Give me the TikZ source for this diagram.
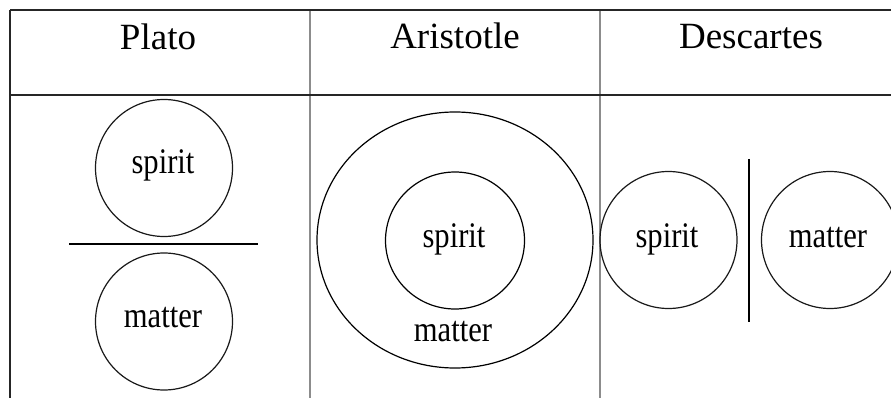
\documentclass[tikz,border=0pt]{standalone}
\usepackage{fontspec}
\setmainfont{Liberation Serif}
\newfontfamily\bodyfont{Liberation Serif}[FakeStretch=0.85]
\usetikzlibrary{shapes.geometric}
\begin{document}
\begin{tikzpicture}[x=1pt,y=-1pt,
  rule/.style={line width=1.4pt,black!85},
  divider/.style={line width=1.4pt,black!45},
  ring/.style={draw,circle,line width=1.2pt,black!90,inner sep=0pt,minimum size=137pt},
  head/.style={font=\fontsize{37}{40}\selectfont,inner sep=0pt,anchor=base},
  word/.style={font=\bodyfont\fontsize{36}{38}\selectfont,inner sep=0pt,anchor=base}]
\useasboundingbox (0,0) rectangle (891,398);
\clip (0,0) rectangle (891,398);
\fill[white] (0,0) rectangle (891,398);
% table frame
\coordinate (tl) at (10,10);
\coordinate (tr) at (891,10);
\coordinate (hl) at (10,95);
\coordinate (hr) at (891,95);
\coordinate (bl) at (10,398);
\coordinate (d1t) at (310,10);
\coordinate (d1b) at (310,398);
\coordinate (d2t) at (600,10);
\coordinate (d2b) at (600,398);
\draw[divider] (d1t) -- (d1b);
\draw[divider] (d2t) -- (d2b);
\draw[rule] (tl) -- (tr);
\draw[rule] (hl) -- (hr);
\draw[rule] (tl) -- (bl);
% headers
\node[head] (h1) at (158,50) {Plato};
\node[head] (h2) at (455,49) {Aristotle};
\node[head] (h3) at (751,49) {Descartes};
% Plato
\node[ring] (ps) at (164,168) {};
\node[ring] (pm) at (164,321.5) {};
\coordinate (pl1) at (69,244);
\coordinate (pl2) at (258,244);
\draw[line width=1.1pt] (pl1) -- (pl2);
\node[word] (pst) at (163,174) {spirit};
\node[word] (pmt) at (163,327) {matter};
% Aristotle
\node[draw,ellipse,line width=1.2pt,inner sep=0pt,minimum width=276pt,minimum height=256pt] (ao) at (455,240) {};
\node[draw,ellipse,line width=1.2pt,inner sep=0pt,minimum width=139pt,minimum height=137pt] (ai) at (455,240.5) {};
\node[word] (ast) at (454,247) {spirit};
\node[word] (amt) at (453,341) {matter};
% Descartes
\node[ring] (ds) at (668.5,240) {};
\node[ring] (dm) at (830,240) {};
\coordinate (dl1) at (749,159);
\coordinate (dl2) at (749,322);
\draw[line width=1.1pt] (dl1) -- (dl2);
\node[word] (dst) at (667,247) {spirit};
\node[word] (dmt) at (828,247) {matter};
\end{tikzpicture}
\end{document}
